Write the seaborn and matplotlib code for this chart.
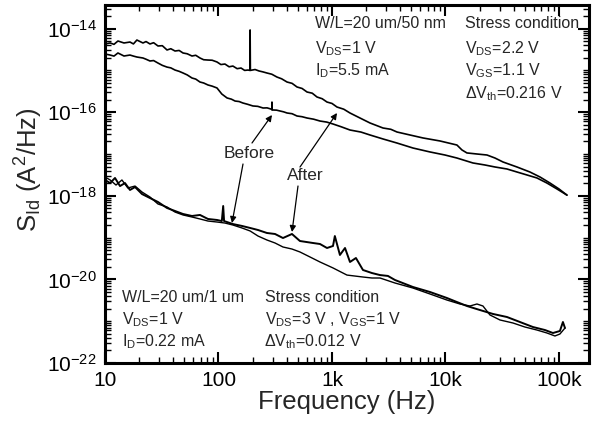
import numpy as np
import pandas as pd
import matplotlib
matplotlib.use("Agg")
import matplotlib.pyplot as plt
import seaborn as sns
from matplotlib.ticker import FixedLocator, LogLocator, NullFormatter

# ---------------- data ----------------
# W/L = 20 um / 50 nm device, after stress (upper curve)
top_after_f = [10.0, 11.1, 12.0, 13.0, 14.7, 16.6, 17.8, 19.1, 21.6, 23.0,
               24.9, 26.8, 29.3, 32.0, 35.2, 38.0, 41.4, 45.0, 48.7, 53.0,
               58.4, 63.0, 68.7, 74.0, 80.8, 88.0, 97.0, 105, 114, 124,
               134, 146, 158, 170, 182, 189, 190, 191, 210, 228,
               247, 267, 295, 327, 360, 402, 445, 492, 545, 603,
               670, 738, 820, 904, 1000, 1107, 1270, 1441, 1766, 2163,
               2814, 3300, 3740, 4866, 6336, 8947, 12620, 13970, 15460, 18950,
               23220, 27320, 32140, 42660, 55480, 68030, 83370, 100000, 117600]
top_after_S = [4.29e-15, 4.53e-15, 4.20e-15, 5.05e-15, 4.53e-15, 4.77e-15, 4.30e-15, 5.33e-15, 4.53e-15, 4.90e-15,
               4.29e-15, 4.60e-15, 3.84e-15, 3.90e-15, 3.08e-15, 3.30e-15, 2.91e-15, 3.00e-15, 2.61e-15, 2.50e-15,
               2.21e-15, 2.30e-15, 1.98e-15, 1.80e-15, 1.77e-15, 1.75e-15, 1.59e-15, 1.38e-15, 1.42e-15, 1.22e-15,
               1.27e-15, 1.10e-15, 1.14e-15, 1.00e-15, 1.02e-15, 1.00e-15, 9.27e-15, 1.00e-15, 1.05e-15, 9.68e-16,
               9.20e-16, 8.67e-16, 8.10e-16, 6.95e-16, 6.30e-16, 5.27e-16, 4.90e-16, 4.01e-16, 3.70e-16, 3.04e-16,
               2.85e-16, 2.31e-16, 2.10e-16, 1.75e-16, 1.62e-16, 1.33e-16, 1.18e-16, 9.57e-17, 7.26e-17, 5.52e-17,
               4.19e-17, 3.90e-17, 3.36e-17, 2.85e-17, 2.42e-17, 2.05e-17, 1.64e-17, 1.25e-17, 1.06e-17, 1.00e-17,
               9.46e-18, 8.01e-18, 6.44e-18, 4.89e-18, 3.71e-18, 2.82e-18, 2.02e-18, 1.46e-18, 1.04e-18]

# W/L = 20 um / 50 nm device, before stress (lower curve)
top_before_f = [10.0, 11.1, 12.0, 13.0, 14.7, 16.6, 17.8, 19.1, 21.6, 23.0,
                24.9, 26.8, 29.3, 32.0, 35.2, 38.0, 41.4, 45.0, 48.7, 53.0,
                58.4, 63.0, 68.7, 74.0, 80.8, 88.0, 97.0, 107, 119, 130,
                140, 152, 164, 180, 201, 222, 247, 268, 290, 295,
                296, 297, 302, 325, 348, 375, 402, 445, 492, 545,
                603, 690, 784, 900, 1021, 1200, 1441, 1800, 2163, 2814,
                3740, 5176, 7295, 9900, 12620, 17460, 22280, 27320, 34830, 42660,
                52240, 63990, 78380, 95940, 117600]
top_before_S = [2.47e-15, 2.33e-15, 2.20e-15, 2.61e-15, 2.21e-15, 2.33e-15, 2.20e-15, 2.09e-15, 1.98e-15, 1.85e-15,
                1.68e-15, 1.72e-15, 1.50e-15, 1.32e-15, 1.20e-15, 1.15e-15, 1.02e-15, 0.95e-15, 8.67e-16, 7.80e-16,
                6.58e-16, 6.20e-16, 5.27e-16, 5.00e-16, 4.48e-16, 4.20e-16, 3.80e-16, 2.72e-16, 2.19e-16, 2.05e-16,
                1.85e-16, 1.80e-16, 1.66e-16, 1.55e-16, 1.41e-16, 1.38e-16, 1.26e-16, 1.27e-16, 1.19e-16, 1.16e-16,
                1.75e-16, 1.13e-16, 1.13e-16, 1.12e-16, 1.07e-16, 1.02e-16, 9.57e-17, 9.20e-17, 8.11e-17, 7.80e-17,
                7.26e-17, 6.80e-17, 6.15e-17, 5.80e-17, 5.22e-17, 4.50e-17, 3.75e-17, 3.35e-17, 2.85e-17, 2.29e-17,
                1.83e-17, 1.39e-17, 1.12e-17, 9.46e-18, 8.01e-18, 6.10e-18, 5.46e-18, 4.89e-18, 4.38e-18, 3.71e-18,
                3.15e-18, 2.67e-18, 2.02e-18, 1.46e-18, 1.04e-18]

# W/L = 20 um / 1 um device, after stress
bot_after_f = [10.0, 11.1, 12.25, 13.56, 15.0, 16.6, 18.4, 21.2, 24.9, 29.3,
               35.2, 41.4, 48.7, 58.4, 68.7, 80.8, 97.0, 107, 110, 112,
               134, 161, 190, 223, 267, 315, 370, 444, 522, 680,
               784, 904, 1021, 1060, 1175, 1303, 1441, 1626, 1875, 2250,
               2650, 3112, 3590, 5170, 7300, 10300, 12600, 15460, 20140, 26230,
               34830, 45300, 59000, 75300, 88500, 102000, 108400, 113000]
bot_after_S = [2.39e-18, 2.02e-18, 2.67e-18, 1.71e-18, 2.02e-18, 1.38e-18, 1.62e-18, 1.10e-18, 8.85e-19, 7.11e-19,
               5.11e-19, 4.33e-19, 3.67e-19, 3.29e-19, 3.48e-19, 2.79e-19, 2.64e-19, 2.49e-19, 5.70e-19, 2.49e-19,
               2.11e-19, 1.90e-19, 1.70e-19, 1.52e-19, 1.29e-19, 1.22e-19, 9.77e-20, 1.22e-19, 8.29e-20, 7.43e-20,
               7.03e-20, 5.64e-20, 6.30e-20, 1.09e-19, 3.84e-20, 5.64e-20, 2.61e-20, 3.25e-20, 1.68e-20, 1.42e-20,
               1.27e-20, 1.21e-20, 9.68e-21, 6.58e-21, 5.00e-21, 3.59e-21, 2.88e-21, 2.31e-21, 1.85e-21, 1.49e-21,
               1.26e-21, 9.57e-22, 7.26e-22, 6.15e-22, 5.22e-22, 5.83e-22, 9.57e-22, 6.87e-22]

# W/L = 20 um / 1 um device, before stress
bot_before_f = [10.0, 11.1, 12.5, 14.1, 15.9, 18.4, 21.2, 24.9, 29.3, 35.2,
                41.4, 48.7, 58.4, 68.7, 80.8, 97.0, 114, 134, 161, 190,
                223, 267, 315, 370, 444, 522, 640, 784, 1021, 1355,
                1875, 2250, 2650, 3590, 5170, 7300, 10300, 13420, 16440, 18950,
                21400, 24660, 30200, 39350, 50120, 64000, 78400, 92200, 102000, 113000]
bot_before_S = [2.82e-18, 2.39e-18, 1.81e-18, 2.39e-18, 1.54e-18, 1.71e-18, 1.23e-18, 9.35e-19, 6.37e-19, 5.40e-19,
                4.09e-19, 3.48e-19, 3.11e-19, 2.79e-19, 2.49e-19, 2.36e-19, 2.23e-19, 2.00e-19, 1.70e-19, 1.44e-19,
                1.09e-19, 8.77e-20, 7.43e-20, 5.96e-20, 5.33e-20, 4.53e-20, 3.44e-20, 2.61e-20, 1.88e-20, 1.27e-20,
                1.14e-20, 1.08e-20, 1.08e-20, 8.20e-21, 6.22e-21, 4.48e-21, 3.21e-21, 2.58e-21, 2.31e-21, 2.58e-21,
                2.31e-21, 1.41e-21, 1.07e-21, 9.06e-22, 7.26e-22, 6.15e-22, 5.22e-22, 4.43e-22, 4.94e-22, 6.87e-22]

x_ticks = [10, 100, 1000, 10000, 100000]
x_tick_labels = ['10', '100', '1k', '10k', '100k']
y_ticks = [1e-22, 1e-20, 1e-18, 1e-16, 1e-14]
y_tick_labels = ['$10^{-22}$', '$10^{-20}$', '$10^{-18}$', '$10^{-16}$', '$10^{-14}$']

# ---------------- style ----------------
sns.set_style("ticks")
plt.rcParams['font.family'] = ['Liberation Sans', 'DejaVu Sans']
plt.rcParams['mathtext.fontset'] = 'custom'
plt.rcParams['mathtext.rm'] = 'Liberation Sans'
plt.rcParams['mathtext.it'] = 'Liberation Sans:italic'
plt.rcParams['mathtext.bf'] = 'Liberation Sans:bold'

fig = plt.figure(figsize=(5.97, 4.30), dpi=100)
ax = fig.add_axes([105 / 597, 67 / 430, 484 / 597, 358 / 430])
ax.set_xscale('log')
ax.set_yscale('log')

curves = [
    (top_after_f, top_after_S, 1.2),
    (top_before_f, top_before_S, 1.2),
    (bot_after_f, bot_after_S, 1.4),
    (bot_before_f, bot_before_S, 1.0),
]
for f, s, lw in curves:
    df = pd.DataFrame({'f': f, 'S': s})
    sns.lineplot(data=df, x='f', y='S', ax=ax, color='black', lw=lw,
                 estimator=None, sort=False, legend=False)

ax.set_xlim(10, 1.84e5)
ax.set_ylim(1e-22, 3.67e-14)

ax.xaxis.set_major_locator(FixedLocator(x_ticks))
ax.set_xticklabels(x_tick_labels)
ax.xaxis.set_minor_locator(LogLocator(base=10, subs=np.arange(2, 10), numticks=30))
ax.xaxis.set_minor_formatter(NullFormatter())
ax.yaxis.set_major_locator(FixedLocator(y_ticks))
ax.set_yticklabels(y_tick_labels)
ax.yaxis.set_minor_locator(LogLocator(base=10, subs=np.arange(1, 10), numticks=40))
ax.yaxis.set_minor_formatter(NullFormatter())

ax.tick_params(which='both', direction='in', top=True, right=True, colors='black')
ax.tick_params(which='major', length=8, width=1.5, labelsize=15, pad=6)
ax.tick_params(which='minor', length=4, width=1.0)
for sp in ax.spines.values():
    sp.set_linewidth(2.2)
    sp.set_color('black')

ax.set_xlabel('Frequency (Hz)', fontsize=18.5)
ax.set_ylabel(r'S$_{\rm Id}$ (A$^2$/Hz)', fontsize=18.5)
ax.xaxis.set_label_coords(0.5, -0.075)
ax.yaxis.set_label_coords(-0.125, 0.54)

def px(x, y):
    return ((x - 105) / 484, (363 - y) / 358)

fs = 11.5
texts = [
    (315, 28, 'W/L=20 um/50 nm'),
    (315, 53, r'V$_{\rm DS}$=1 V'),
    (315, 75, r'I$_{\rm D}$=5.5 mA'),
    (465, 28, 'Stress condition'),
    (465, 53, r'V$_{\rm DS}$=2.2 V'),
    (465, 75, r'V$_{\rm GS}$=1.1 V'),
    (465, 98, r'ΔV$_{\rm th}$=0.216 V'),
    (122, 302, 'W/L=20 um/1 um'),
    (122, 324, r'V$_{\rm DS}$=1 V'),
    (122, 346, r'I$_{\rm D}$=0.22 mA'),
    (265, 302, 'Stress condition'),
    (265, 324, r'V$_{\rm DS}$=3 V , V$_{\rm GS}$=1 V'),
    (264, 346, r'ΔV$_{\rm th}$=0.012 V'),
]
for x, y, t in texts:
    ax.text(*px(x, y), t, transform=ax.transAxes, fontsize=fs,
            ha='left', va='baseline')

ax.text(*px(249, 154), 'Before', transform=ax.transAxes, fontsize=12.5,
        ha='center', va='center')
ax.text(*px(305, 176), 'After', transform=ax.transAxes, fontsize=12.5,
        ha='center', va='center')

arrows = [
    ((252, 143), (272, 115)),
    ((243, 164), (232, 223)),
    ((300, 167), (337, 113)),
    ((298, 186), (292, 232)),
]
for tail, tip in arrows:
    ax.annotate('', xy=px(*tip), xytext=px(*tail), xycoords='axes fraction',
                textcoords='axes fraction',
                arrowprops=dict(arrowstyle='-|>', color='black', lw=0.9,
                                mutation_scale=9, shrinkA=0, shrinkB=0))

fig.savefig('out.png', dpi=100)
